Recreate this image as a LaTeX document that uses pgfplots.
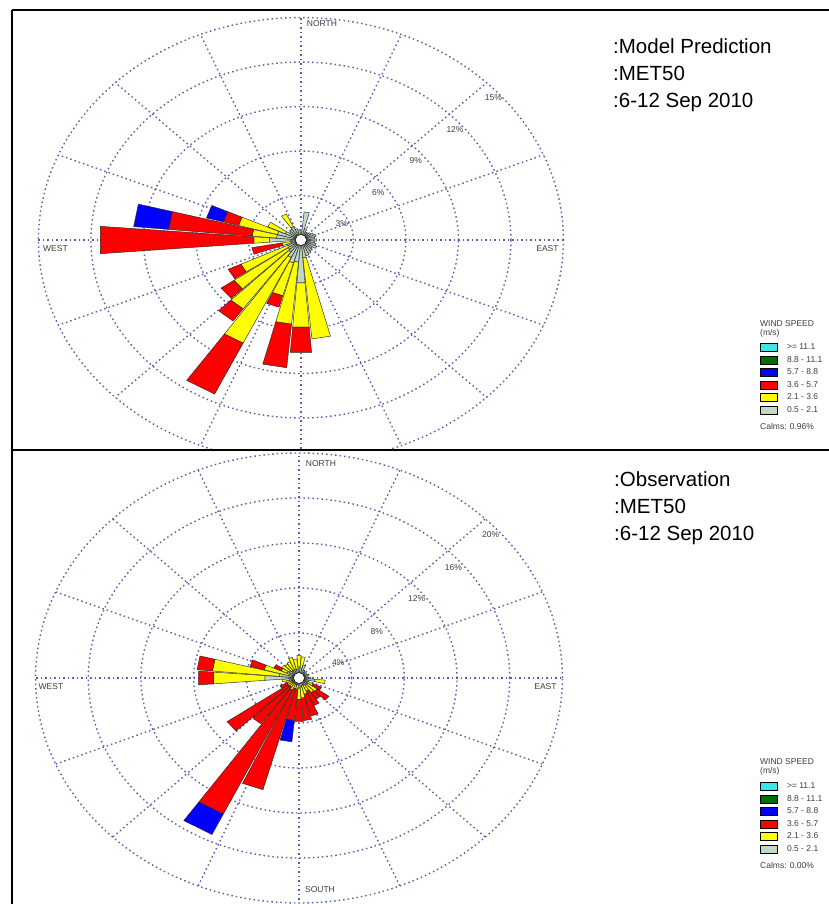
\documentclass[border=0pt]{standalone}
\usepackage{pgfplots}
\pgfplotsset{compat=1.18}
\usepackage{fontspec}
\setmainfont{Liberation Sans}
\definecolor{wsgray}{RGB}{192,216,196}
\definecolor{wsyel}{RGB}{255,255,0}
\definecolor{wsred}{RGB}{255,0,0}
\definecolor{wsblue}{RGB}{0,0,255}
\definecolor{wsgreen}{RGB}{0,110,0}
\definecolor{wscyan}{RGB}{64,230,230}
\definecolor{gridc}{RGB}{92,92,172}
\definecolor{labc}{RGB}{60,60,60}
\tikzset{windgrid/.style={draw=gridc, line width=1.4pt, dash pattern=on 1.5pt off 3pt}}
% one stacked segment: colour, compass direction, inner radius, outer radius (percent)
\newcommand\seg[4]{%
  \pgfmathsetmacro\angA{90-(#2)-4.6}%
  \pgfmathsetmacro\angB{90-(#2)+4.6}%
  \edef\segtmp{\noexpand\addplot[forget plot, fill=#1, draw=black!85, line width=0.45pt, data cs=polar] coordinates {(\angA,#3) (\angB,#3) (\angB,#4) (\angA,#4)} -- cycle;}%
  \segtmp}
% spokes every 22.5 degrees, out to the outer ring (#1)
\newcommand\spokes[1]{%
  \pgfplotsinvokeforeach{0,22.5,45,67.5,90,112.5,135,157.5,180,202.5,225,247.5,270,292.5,315,337.5}{%
    \addplot[forget plot, windgrid, data cs=polar] coordinates {(##1,0) (##1,#1)};}}
\newcommand\rings[1]{%
  \pgfplotsinvokeforeach{#1}{\draw[windgrid] (axis cs:0,0) ellipse [x radius=##1, y radius=##1];}}
\begin{document}
\begin{tikzpicture}
\path[use as bounding box] (0pt,0pt) rectangle (829pt,-904pt);
% ---------------- top: model prediction ----------------
\begin{axis}[at={(12pt,-450pt)}, anchor=south west, scale only axis, hide axis, clip=true,
  x=17.5pt, y=14.83pt, xmin=-16.51, xmax=17.37, ymin=-14.16, ymax=15.51,
  legend image code/.code={\draw[#1, line width=0.5pt] (0pt,-4pt) rectangle (17pt,4pt); \path (26pt,0pt);},
  legend style={draw=none, fill=none, inner sep=0pt, at={(axis description cs:1.2614,0.2427)}, anchor=north west,
    font=\fontsize{8.5}{9}\selectfont, text=labc, nodes={inner sep=0.5pt}, row sep=4pt},
  legend cell align=left]
\addlegendimage{fill=wscyan, draw=black}\addlegendentry{>= 11.1}
\addlegendimage{fill=wsgreen, draw=black}\addlegendentry{8.8 - 11.1}
\addlegendimage{fill=wsblue, draw=black}\addlegendentry{5.7 - 8.8}
\addlegendimage{fill=wsred, draw=black}\addlegendentry{3.6 - 5.7}
\addlegendimage{fill=wsyel, draw=black}\addlegendentry{2.1 - 3.6}
\addlegendimage{fill=wsgray, draw=black}\addlegendentry{0.5 - 2.1}
\rings{3,6,9,12,15}
\spokes{15}
\seg{wsgray}{0}{0}{0.7}
\seg{wsgray}{10}{0}{1.9}
\seg{wsgray}{20}{0}{0.8}
\seg{wsgray}{30}{0}{0.6}
\seg{wsgray}{40}{0}{0.6}
\seg{wsgray}{50}{0}{0.7}
\seg{wsgray}{60}{0}{0.8}
\seg{wsgray}{70}{0}{0.9}
\seg{wsgray}{80}{0}{0.8}
\seg{wsgray}{90}{0}{0.9}
\seg{wsgray}{100}{0}{0.8}
\seg{wsgray}{110}{0}{0.9}
\seg{wsgray}{120}{0}{1.0}
\seg{wsgray}{130}{0}{0.8}
\seg{wsgray}{140}{0}{0.9}
\seg{wsgray}{150}{0}{1.0}
\seg{wsgray}{160}{0}{1.1}
\seg{wsgray}{170}{0}{1.2}\seg{wsyel}{170}{1.2}{6.7}
\seg{wsgray}{180}{0}{2.9}\seg{wsyel}{180}{2.9}{5.9}\seg{wsred}{180}{5.9}{7.6}
\seg{wsgray}{190}{0}{1.5}\seg{wsyel}{190}{1.5}{5.7}\seg{wsred}{190}{5.7}{8.65}
\seg{wsgray}{200}{0}{1.6}\seg{wsyel}{200}{1.6}{3.9}\seg{wsred}{200}{3.9}{4.7}
\seg{wsgray}{210}{0}{1.3}\seg{wsyel}{210}{1.3}{7.7}\seg{wsred}{210}{7.7}{11.5}
\seg{wsgray}{220}{0}{1.0}\seg{wsyel}{220}{1.0}{5.7}\seg{wsred}{220}{5.7}{6.7}
\seg{wsgray}{230}{0}{0.9}\seg{wsyel}{230}{0.9}{4.7}\seg{wsred}{230}{4.7}{5.6}
\seg{wsgray}{240}{0}{0.8}\seg{wsyel}{240}{0.8}{3.8}\seg{wsred}{240}{3.8}{4.6}
\seg{wsgray}{255}{0}{0.6}\seg{wsyel}{255}{0.6}{1.1}\seg{wsred}{255}{1.1}{2.85}
\seg{wsgray}{270}{0}{1.8}\seg{wsyel}{270}{1.8}{2.7}\seg{wsred}{270}{2.7}{11.5}
\seg{wsgray}{280}{0}{1.4}\seg{wsyel}{280}{1.4}{2.8}\seg{wsred}{280}{2.8}{7.6}\seg{wsblue}{280}{7.6}{9.6}
\seg{wsgray}{290}{0}{1.4}\seg{wsyel}{290}{1.4}{3.7}\seg{wsred}{290}{3.7}{4.6}\seg{wsblue}{290}{4.6}{5.6}
\seg{wsgray}{300}{0}{1.0}\seg{wsyel}{300}{1.0}{2.1}
\seg{wsgray}{310}{0}{0.8}
\seg{wsgray}{320}{0}{0.9}
\seg{wsgray}{330}{0}{1.0}\seg{wsyel}{330}{1.0}{1.95}
\seg{wsgray}{340}{0}{0.8}
\seg{wsgray}{350}{0}{0.7}
\draw[fill=white, draw=black, line width=0.5pt] (axis cs:0,0) ellipse [x radius=0.32, y radius=0.38];
\end{axis}
% ---------------- bottom: observation ----------------
\begin{axis}[at={(12pt,-904pt)}, anchor=south west, scale only axis, hide axis, clip=true,
  x=13.17pt, y=11.25pt, xmin=-21.79, xmax=23.23, ymin=-20.09, ymax=20.27,
  legend image code/.code={\draw[#1, line width=0.5pt] (0pt,-4pt) rectangle (17pt,4pt); \path (26pt,0pt);},
  legend style={draw=none, fill=none, inner sep=0pt, at={(axis description cs:1.2614,0.2683)}, anchor=north west,
    font=\fontsize{8.5}{9}\selectfont, text=labc, nodes={inner sep=0.5pt}, row sep=4pt},
  legend cell align=left]
\addlegendimage{fill=wscyan, draw=black}\addlegendentry{>= 11.1}
\addlegendimage{fill=wsgreen, draw=black}\addlegendentry{8.8 - 11.1}
\addlegendimage{fill=wsblue, draw=black}\addlegendentry{5.7 - 8.8}
\addlegendimage{fill=wsred, draw=black}\addlegendentry{3.6 - 5.7}
\addlegendimage{fill=wsyel, draw=black}\addlegendentry{2.1 - 3.6}
\addlegendimage{fill=wsgray, draw=black}\addlegendentry{0.5 - 2.1}
\rings{4,8,12,16,20}
\spokes{20}
\seg{wsgray}{0}{0}{1.0}\seg{wsyel}{0}{1.0}{2.0}
\seg{wsgray}{10}{0}{0.9}\seg{wsyel}{10}{0.9}{1.9}
\seg{wsgray}{20}{0}{1.2}
\seg{wsgray}{30}{0}{0.8}
\seg{wsgray}{40}{0}{0.7}
\seg{wsgray}{50}{0}{0.6}
\seg{wsgray}{60}{0}{0.7}
\seg{wsgray}{70}{0}{0.8}
\seg{wsgray}{80}{0}{0.7}
\seg{wsgray}{90}{0}{0.9}
\seg{wsgray}{100}{0}{1.2}\seg{wsyel}{100}{1.2}{2.0}
\seg{wsgray}{110}{0}{0.8}
\seg{wsgray}{120}{0}{0.7}\seg{wsyel}{120}{0.7}{1.2}\seg{wsred}{120}{1.2}{1.9}
\seg{wsgray}{130}{0}{0.8}\seg{wsyel}{130}{0.8}{1.7}\seg{wsred}{130}{1.7}{2.8}
\seg{wsgray}{140}{0}{0.8}\seg{wsyel}{140}{0.8}{1.6}\seg{wsred}{140}{1.6}{2.3}
\seg{wsgray}{150}{0}{0.7}\seg{wsyel}{150}{0.7}{1.3}\seg{wsred}{150}{1.3}{2.7}
\seg{wsgray}{160}{0}{0.7}\seg{wsyel}{160}{0.7}{1.5}\seg{wsred}{160}{1.5}{3.5}
\seg{wsgray}{170}{0}{0.8}\seg{wsyel}{170}{0.8}{1.8}\seg{wsred}{170}{1.8}{3.8}
\seg{wsgray}{180}{0}{0.9}\seg{wsyel}{180}{0.9}{1.9}\seg{wsred}{180}{1.9}{3.9}
\seg{wsgray}{190}{0}{0.6}\seg{wsyel}{190}{0.6}{1.0}\seg{wsred}{190}{1.0}{3.8}\seg{wsblue}{190}{3.8}{5.7}
\seg{wsgray}{200}{0}{0.6}\seg{wsyel}{200}{0.6}{1.0}\seg{wsred}{200}{1.0}{10.3}
\seg{wsgray}{210}{0}{0.6}\seg{wsyel}{210}{0.6}{1.2}\seg{wsred}{210}{1.2}{13.4}\seg{wsblue}{210}{13.4}{15.4}
\seg{wsgray}{220}{0}{0.6}\seg{wsyel}{220}{0.6}{1.0}\seg{wsred}{220}{1.0}{5.0}
\seg{wsgray}{230}{0}{0.6}\seg{wsyel}{230}{0.6}{1.0}\seg{wsred}{230}{1.0}{6.7}
\seg{wsgray}{240}{0}{0.6}\seg{wsyel}{240}{0.6}{1.0}\seg{wsred}{240}{1.0}{1.6}
\seg{wsgray}{250}{0}{0.6}\seg{wsyel}{250}{0.6}{1.0}
\seg{wsgray}{260}{0}{0.7}\seg{wsyel}{260}{0.7}{1.3}
\seg{wsgray}{270}{0}{2.6}\seg{wsyel}{270}{2.6}{6.5}\seg{wsred}{270}{6.5}{7.65}
\seg{wsgray}{280}{0}{1.5}\seg{wsyel}{280}{1.5}{6.6}\seg{wsred}{280}{6.6}{7.77}
\seg{wsgray}{290}{0}{0.8}\seg{wsyel}{290}{0.8}{2.75}\seg{wsred}{290}{2.75}{3.86}
\seg{wsgray}{300}{0}{1.0}\seg{wsyel}{300}{1.0}{1.5}\seg{wsred}{300}{1.5}{2.1}
\seg{wsgray}{310}{0}{0.9}\seg{wsyel}{310}{0.9}{1.6}
\seg{wsgray}{320}{0}{0.8}\seg{wsyel}{320}{0.8}{1.5}
\seg{wsgray}{330}{0}{0.8}\seg{wsyel}{330}{0.8}{1.6}
\seg{wsgray}{340}{0}{0.8}\seg{wsyel}{340}{0.8}{1.9}
\seg{wsgray}{350}{0}{0.8}\seg{wsyel}{350}{0.8}{1.7}
\draw[fill=white, draw=black, line width=0.5pt] (axis cs:0,0) ellipse [x radius=0.42, y radius=0.49];
\end{axis}
% ---------------- frame ----------------
\draw[line width=1.3pt] (12pt,-10pt) -- (829pt,-10pt);
\draw[line width=1.3pt] (12pt,-10pt) -- (12pt,-904pt);
\draw[line width=1.3pt] (12pt,-450pt) -- (829pt,-450pt);
% ---------------- labels ----------------
\begin{scope}[every node/.style={inner sep=0pt, text=labc, font=\fontsize{8.5}{9}\selectfont}]
\node at (341.7pt,-224pt) {3\%};
\node at (378.3pt,-192.7pt) {6\%};
\node at (415.7pt,-161pt) {9\%};
\node at (455pt,-129.3pt) {12\%};
\node at (493.3pt,-97.3pt) {15\%};
\node at (322pt,-24pt) {NORTH};
\node at (55.5pt,-248.5pt) {WEST};
\node at (547.5pt,-248.5pt) {EAST};
\node at (338.3pt,-662.3pt) {4\%};
\node at (376.7pt,-631.7pt) {8\%};
\node at (416.7pt,-599pt) {12\%};
\node at (453.3pt,-567.3pt) {16\%};
\node at (490.7pt,-535pt) {20\%};
\node at (321pt,-463.5pt) {NORTH};
\node at (51pt,-686.5pt) {WEST};
\node at (545.5pt,-686.5pt) {EAST};
\node at (320pt,-890pt) {SOUTH};
\end{scope}
\begin{scope}[every node/.style={inner sep=0pt, anchor=base west, font=\fontsize{20.5}{24}\selectfont}]
\node at (613pt,-53.5pt) {:Model Prediction};
\node at (613pt,-80.5pt) {:MET50};
\node at (613pt,-107.5pt) {:6-12 Sep 2010};
\node at (614pt,-486.5pt) {:Observation};
\node at (614pt,-513.5pt) {:MET50};
\node at (614pt,-540.5pt) {:6-12 Sep 2010};
\end{scope}
\begin{scope}[every node/.style={inner sep=0pt, anchor=base west, text=labc, font=\fontsize{8.5}{9}\selectfont}]
\node at (760pt,-326.3pt) {WIND SPEED};
\node at (760pt,-335.7pt) {(m/s)};
\node at (760pt,-429pt) {Calms: 0.96\%};
\node at (760pt,-764.7pt) {WIND SPEED};
\node at (760pt,-773.7pt) {(m/s)};
\node at (760pt,-868pt) {Calms: 0.00\%};
\end{scope}
\end{tikzpicture}
\end{document}
